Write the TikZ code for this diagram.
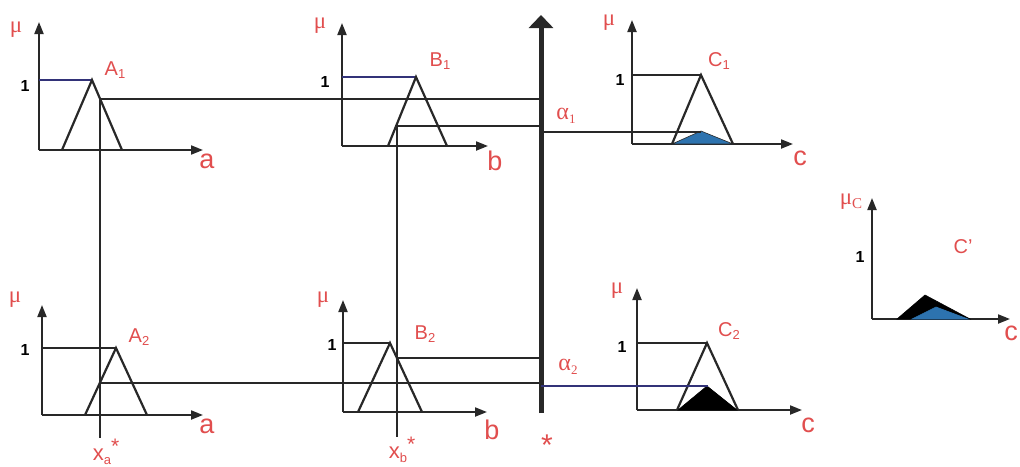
\documentclass[tikz,border=0pt]{standalone}
\usepackage{fontspec}
\setmainfont{Liberation Sans}
\newfontfamily\grk{Liberation Serif}
\usetikzlibrary{arrows.meta}
\definecolor{labred}{RGB}{225,78,78}
\definecolor{axgray}{RGB}{40,40,40}
\definecolor{fillblue}{RGB}{45,115,175}
\definecolor{lineblue}{RGB}{50,50,120}
\newcommand\sbs[1]{\raisebox{-0.35ex}{\fontsize{13}{13}\selectfont #1}}
\tikzset{
 axis/.style={draw=axgray, line width=2pt, -{Triangle[length=12pt,width=9pt]}},
 tri/.style={draw=axgray, line width=2.2pt, line join=miter},
 guide/.style={draw=axgray, line width=1.8pt},
 thinguide/.style={draw=lineblue, line width=1.2pt},
 lab/.style={text=labred, inner sep=0pt, font=\fontsize{20}{20}\selectfont},
 biglab/.style={text=labred, inner sep=0pt, font=\fontsize{27}{27}\selectfont},
 midlab/.style={text=labred, inner sep=0pt, font=\fontsize{22}{22}\selectfont},
 mu/.style={text=labred, inner sep=0pt, font=\grk\fontsize{23}{23}\selectfont},
 alab/.style={text=labred, inner sep=0pt, font=\grk\fontsize{24}{24}\selectfont},
 one/.style={text=black, inner sep=0pt, font=\bfseries\fontsize{16}{16}\selectfont},
}
\begin{document}
\begin{tikzpicture}[x=1pt,y=-1pt]
\useasboundingbox[fill=white] (0,0) rectangle (1020,466);

% ---------- central axis ----------
\coordinate (cbot) at (541,413);
\coordinate (ctop) at (541,15);
\draw[line width=5pt, draw=axgray, -{Triangle[length=13pt,width=24pt]}] (cbot) -- (ctop);
\node[midlab, font=\fontsize{30}{30}\selectfont] (star) at (547,445) {*};

% ---------- A1 ----------
\coordinate (a1o) at (39,150);
\draw[axis] (a1o) -- (39,22);
\draw[axis] (a1o) -- (203,150);
\coordinate (a1p) at (92,80);
\draw[thinguide] (39,80) -- (a1p);
\draw[tri] (62,150) -- (a1p) -- (122,150);
\node[mu] (mua1) at (16,30) {μ};
\node[one] (onea1) at (25,86) {1};
\node[lab] (A1) at (115,70) {A\sbs{1}};
\node[biglab] (la1) at (207,161) {a};

% ---------- B1 ----------
\coordinate (b1o) at (342,146);
\draw[axis] (b1o) -- (342,23);
\draw[axis] (b1o) -- (488,146);
\coordinate (b1p) at (416,77);
\draw[thinguide] (342,77) -- (b1p);
\draw[tri] (388,146) -- (b1p) -- (447,146);
\node[mu] (mub1) at (320,26) {μ};
\node[one] (oneb1) at (325,82) {1};
\node[lab] (B1) at (440,61) {B\sbs{1}};
\node[biglab] (lb1) at (495,161) {b};

% ---------- A2 ----------
\coordinate (a2o) at (42,415);
\draw[axis] (a2o) -- (42,305);
\draw[axis] (a2o) -- (203,415);
\coordinate (a2p) at (116,348);
\draw[guide] (42,348) -- (a2p);
\draw[tri] (85,415) -- (a2p) -- (147,415);
\node[mu] (mua2) at (15,300) {μ};
\node[one] (onea2) at (25,350) {1};
\node[lab] (A2) at (139,337) {A\sbs{2}};
\node[biglab] (la2) at (207,426) {a};

% ---------- B2 ----------
\coordinate (b2o) at (343,412);
\draw[axis] (b2o) -- (343,300);
\draw[axis] (b2o) -- (487,412);
\coordinate (b2p) at (390,343);
\draw[guide] (343,343) -- (b2p);
\draw[tri] (358,412) -- (b2p) -- (422,412);
\node[mu] (mub2) at (323,300) {μ};
\node[one] (oneb2) at (332,345) {1};
\node[lab] (B2) at (425,334) {B\sbs{2}};
\node[biglab] (lb2) at (492,430) {b};

% ---------- crisp inputs ----------
\coordinate (xa1) at (100,98.7);
\coordinate (xa2) at (100,382.6);
\coordinate (xab) at (100,438);
\coordinate (xb1) at (397,126.3);
\coordinate (xb2) at (397,358.1);
\coordinate (xbb) at (397,437);
\draw[guide] (xa1) -- (xab);
\draw[guide] (xb1) -- (xbb);
\node[midlab] (xas) at (106,452) {x\sbs{a}\raisebox{0.6ex}{\fontsize{21}{21}\selectfont *}};
\node[midlab] (xbs) at (402,450) {x\sbs{b}\raisebox{0.6ex}{\fontsize{21}{21}\selectfont *}};

% membership levels carried to the central axis
\coordinate (ca1) at (541,98.7);
\coordinate (cb1) at (541,126.3);
\coordinate (ca2) at (541,382.6);
\coordinate (cb2) at (541,358.1);
\draw[guide] (xa1) -- (ca1);
\draw[guide] (xb1) -- (cb1);
\draw[guide] (xa2) -- (ca2);
\draw[guide] (xb2) -- (cb2);

% ---------- C1 ----------
\coordinate (c1o) at (632,144);
\draw[axis] (c1o) -- (632,20);
\draw[axis] (c1o) -- (793,144);
\coordinate (c1p) at (701,75);
\draw[guide] (632,75) -- (c1p);
\draw[fill=fillblue, draw=axgray, line width=0.6pt] (672,144) -- (701,131) -- (733,144) -- cycle;
\draw[tri] (672,144) -- (c1p) -- (733,144);
\coordinate (al1a) at (541,132);
\coordinate (al1b) at (701,132);
\draw[guide] (al1a) -- (al1b);
\node[mu] (muc1) at (609,23) {μ};
\node[one] (onec1) at (620,80) {1};
\node[lab] (C1) at (719,61) {C\sbs{1}};
\node[biglab] (lc1) at (800,158) {c};
\node[alab] (alpha1) at (566,116) {α\sbs{1}};

% ---------- C2 ----------
\coordinate (c2o) at (637,410);
\draw[axis] (c2o) -- (637,288);
\draw[axis] (c2o) -- (802,410);
\coordinate (c2p) at (707,343);
\draw[guide] (637,343) -- (c2p);
\draw[fill=black, draw=black, line width=0.6pt] (678,410) -- (707,386) -- (737,410) -- cycle;
\draw[tri] (677,410) -- (c2p) -- (738,410);
\coordinate (al2a) at (541,386);
\coordinate (al2b) at (708,386);
\draw[thinguide] (al2a) -- (al2b);
\node[mu] (muc2) at (617,291) {μ};
\node[one] (onec2) at (622,347) {1};
\node[lab] (C2) at (729,331) {C\sbs{2}};
\node[biglab] (lc2) at (808,425) {c};
\node[alab] (alpha2) at (568,367) {α\sbs{2}};

% ---------- C' ----------
\coordinate (cpo) at (872,319);
\draw[axis] (cpo) -- (872,198);
\draw[axis] (cpo) -- (1010,319);
\draw[fill=black, draw=black, line width=0.6pt] (897,319) -- (925,295) -- (970,319) -- cycle;
\draw[fill=fillblue, draw=fillblue, line width=0.6pt] (912,319) -- (936,307) -- (968,319) -- cycle;
\node[mu] (mucp) at (851,202) {μ\sbs{\fontsize{15}{15}\selectfont C}};
\node[one] (onecp) at (860,257) {1};
\node[lab] (Cp) at (963,247) {C’};
\node[biglab] (lcp) at (1011,333) {c};
\end{tikzpicture}
\end{document}
